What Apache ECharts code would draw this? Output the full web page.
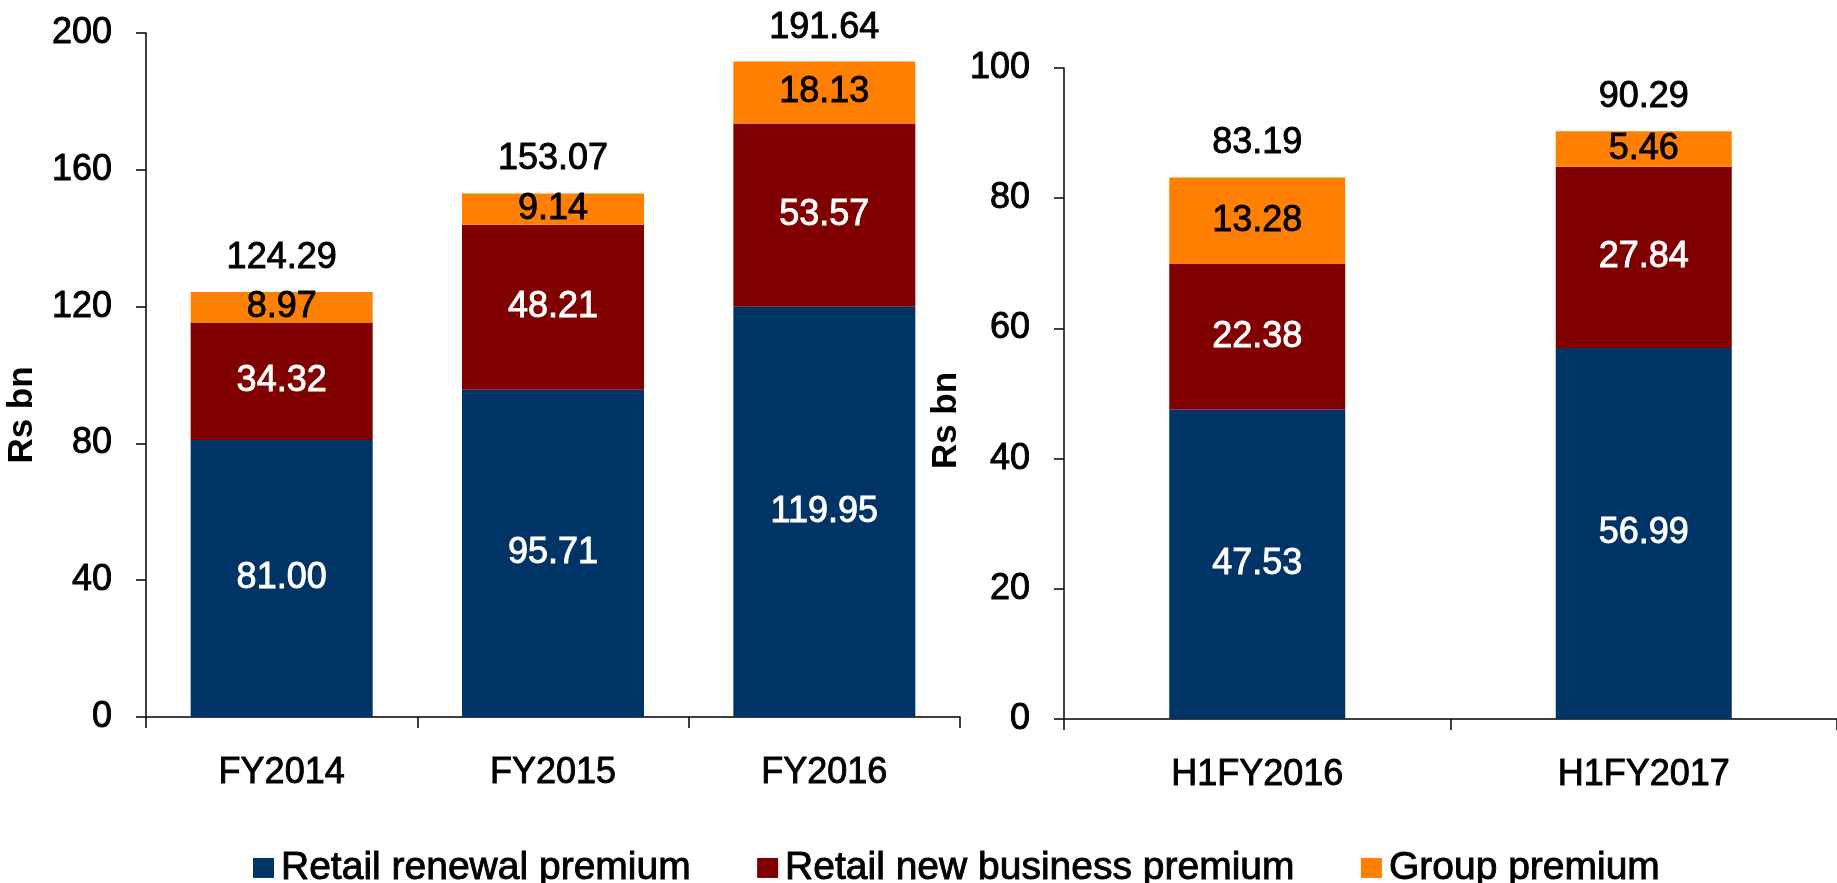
<!DOCTYPE html>
<html>
<head>
<meta charset="utf-8">
<script src="https://cdn.jsdelivr.net/npm/echarts@6/dist/echarts.min.js"></script>
<style>
  html, body { margin: 0; padding: 0; background: #fff; }
  #main { width: 1837px; height: 883px; }
</style>
</head>
<body>
<div id="main"></div>
<script>
// 数据
var yearCats = ['FY2014', 'FY2015', 'FY2016'];
var halfCats = ['H1FY2016', 'H1FY2017'];

var renewalYear = [81.00, 95.71, 119.95];
var newBizYear = [34.32, 48.21, 53.57];
var groupYear = [8.97, 9.14, 18.13];
var totalYear = [124.29, 153.07, 191.64];

var renewalHalf = [47.53, 56.99];
var newBizHalf = [22.38, 27.84];
var groupHalf = [13.28, 5.46];
var totalHalf = [83.19, 90.29];

var seriesNames = ['Retail renewal premium', 'Retail new business premium', 'Group premium'];
var colors = ['#003366', '#800000', '#FF8000'];

var FONT = '"Liberation Sans", Arial, sans-serif';
var STROKE = 0.9; // 文字稍加粗

var myChart = echarts.init(document.getElementById('main'));

function fmt(p) { return p.value.toFixed(2); }

function seg(name, idx, data, color, labelColor, barWidth) {
    return {
        name: name,
        type: 'bar',
        stack: 'g' + idx,
        xAxisIndex: idx,
        yAxisIndex: idx,
        barWidth: barWidth,
        data: data,
        itemStyle: { color: color },
        label: {
            show: true,
            position: 'inside',
            color: labelColor,
            textBorderColor: labelColor,
            textBorderWidth: STROKE,
            fontFamily: FONT,
            fontSize: 36,
            formatter: fmt
        }
    };
}

function totals(idx, data) {
    return {
        name: 'Total',
        type: 'scatter',
        xAxisIndex: idx,
        yAxisIndex: idx,
        symbolSize: 0,
        data: data,
        silent: true,
        itemStyle: { opacity: 1 },
        label: {
            show: true,
            position: 'top',
            distance: 16,
            color: '#000',
            textBorderColor: '#000',
            textBorderWidth: STROKE,
            fontFamily: FONT,
            fontSize: 36,
            formatter: fmt
        }
    };
}

var axisLine = { show: true, lineStyle: { color: '#000', width: 1.5 } };

function yAxis(idx, max, interval, gap, pad) {
    return {
        type: 'value',
        gridIndex: idx,
        min: 0,
        max: max,
        interval: interval,
        name: 'Rs bn',
        nameLocation: 'middle',
        nameGap: gap,
        nameTextStyle: { color: '#000', fontFamily: FONT, fontSize: 35, fontWeight: 'bold', padding: pad },
        axisLine: axisLine,
        axisTick: { show: true, length: 10, lineStyle: { color: '#000', width: 1.5 } },
        axisLabel: {
            color: '#000', fontFamily: FONT, fontSize: 36, margin: 34,
            textBorderColor: '#000', textBorderWidth: STROKE
        },
        splitLine: { show: false }
    };
}

function xAxis(idx, cats) {
    return {
        type: 'category',
        gridIndex: idx,
        data: cats,
        axisLine: axisLine,
        axisTick: { show: true, length: 11, lineStyle: { color: '#000', width: 1.5 } },
        axisLabel: {
            color: '#000', fontFamily: FONT, fontSize: 36, margin: 38,
            textBorderColor: '#000', textBorderWidth: STROKE
        }
    };
}

var option = {
    backgroundColor: '#fff',
    animation: false,
    color: colors,
    legend: {
        data: seriesNames,
        left: 248,
        top: 843,
        itemWidth: 21,
        itemHeight: 20,
        itemGap: 66,
        icon: 'rect',
        textStyle: {
            color: '#000', fontFamily: FONT, fontSize: 39, padding: [0, 0, 0, 2],
            textBorderColor: '#000', textBorderWidth: STROKE
        }
    },
    grid: [
        { left: 146, top: 33, width: 814, height: 684 },
        { left: 1064, top: 68, width: 778, height: 651 }
    ],
    xAxis: [xAxis(0, yearCats), xAxis(1, halfCats)],
    yAxis: [yAxis(0, 200, 40, 106, [0, 80, 0, 0]), yAxis(1, 100, 20, 100, [0, 54, 0, 0])],
    series: [
        seg(seriesNames[0], 0, renewalYear, colors[0], '#fff', 182),
        seg(seriesNames[1], 0, newBizYear, colors[1], '#fff', 182),
        seg(seriesNames[2], 0, groupYear, colors[2], '#000', 182),
        totals(0, totalYear),
        seg(seriesNames[0], 1, renewalHalf, colors[0], '#fff', 176),
        seg(seriesNames[1], 1, newBizHalf, colors[1], '#fff', 176),
        seg(seriesNames[2], 1, groupHalf, colors[2], '#000', 176),
        totals(1, totalHalf)
    ]
};

myChart.setOption(option);
</script>
</body>
</html>
